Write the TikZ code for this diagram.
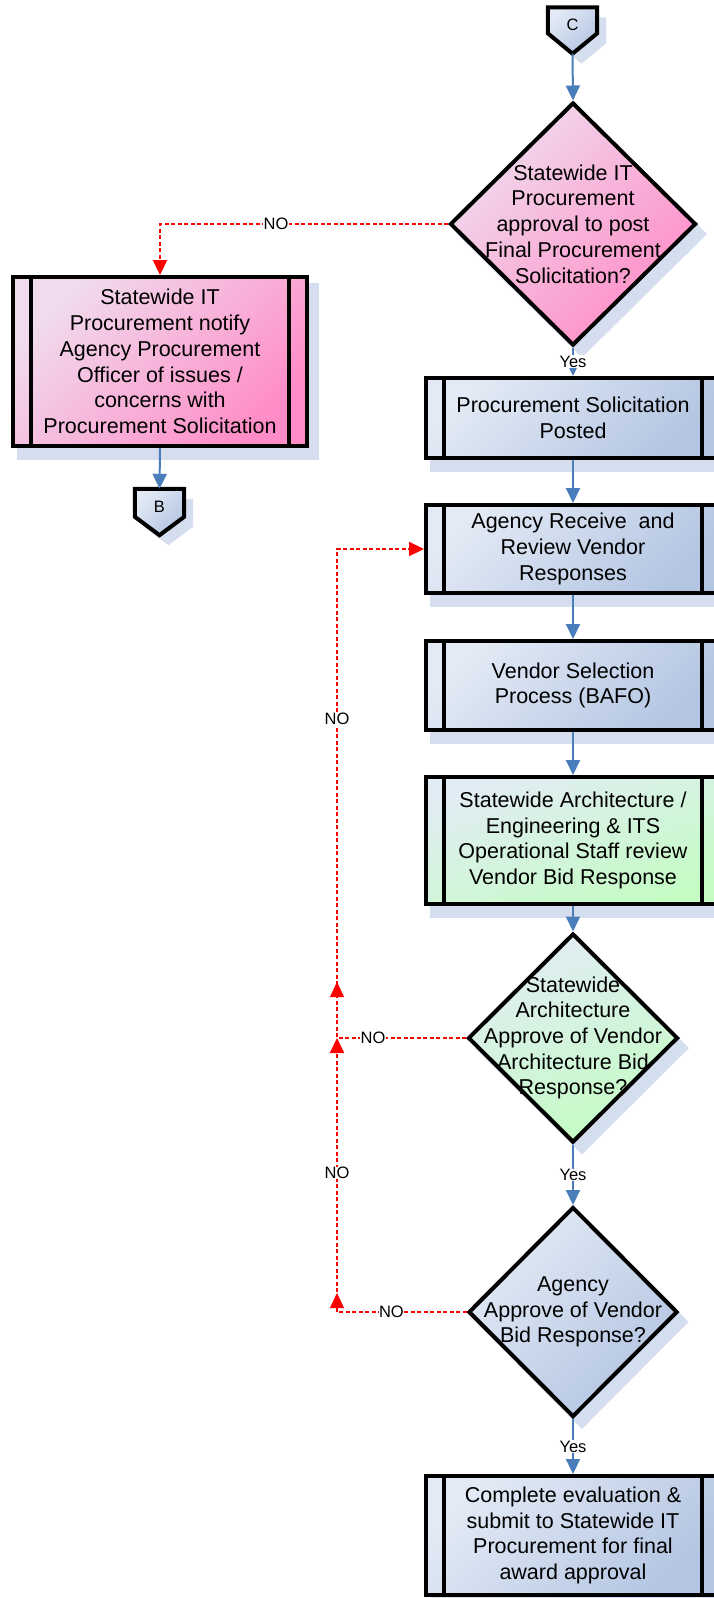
\documentclass[tikz,border=0pt]{standalone}
\usepackage{fontspec}
\setmainfont{Liberation Sans}
\usetikzlibrary{shapes.geometric,arrows.meta,calc,backgrounds}

\definecolor{bLight}{HTML}{E3EAF5}
\definecolor{bDark}{HTML}{B3C5E2}
\definecolor{pLight}{HTML}{F0DCEE}
\definecolor{pDark}{HTML}{FF8CC6}
\definecolor{gLight}{HTML}{E2ECF4}
\definecolor{gDark}{HTML}{C4FCC4}
\definecolor{shadowc}{HTML}{D5DEEE}
\definecolor{flowblue}{HTML}{4A7EBB}
\definecolor{nored}{HTML}{FF0000}

\newcommand\mainsz{\fontsize{21.5}{25.7}\selectfont}
\newcommand\labsz{\fontsize{16.5}{19}\selectfont}

\tikzset{
  blueshade/.style={top color=bLight, bottom color=bDark, shading angle=45},
  pinkshade/.style={top color=pLight, bottom color=pDark, shading angle=45},
  greenshade/.style={top color=gLight, bottom color=gDark, shading angle=20},
  procbox/.style={rectangle, draw=black, line width=4pt, minimum width=294pt,
    inner sep=0pt, align=center, font=\mainsz, text=black},
  decbox/.style={diamond, draw=black, line width=4pt, inner sep=0pt},
  dtext/.style={align=center, font=\mainsz, text=black, inner sep=0pt},
  offbox/.style={rectangle, minimum width=49pt, minimum height=46pt, inner sep=0pt},
  offshape/.style={draw=black, line width=4pt, blueshade, line join=miter},
  offtxt/.style={font=\labsz, text=black, inner sep=0pt},
  stripline/.style={draw=black, line width=4pt},
  flow/.style={draw=flowblue, line width=2pt, -{Triangle[length=15pt,width=14pt]}},
  redline/.style={draw=nored, line width=2.2pt, dash pattern=on 4pt off 2.5pt},
  redend/.style={redline, -{Triangle[length=15pt,width=14pt]}},
  redtip/.style={draw=nored, fill=nored, line width=0.5pt, -{Triangle[length=15pt,width=14pt]}},
  lab/.style={fill=white, inner sep=0.5pt, font=\labsz, text=black},
}

\newcommand\mystrips[1]{%
  \draw[stripline] ([xshift=20pt]#1.north west) -- ([xshift=20pt]#1.south west);
  \draw[stripline] ([xshift=-20pt]#1.north east) -- ([xshift=-20pt]#1.south east);}
\newcommand\boxshadow[1]{%
  \fill[shadowc] ($(#1.north west)+(6,8)$) rectangle ($(#1.south east)+(10,12)$);}
\newcommand\diashadow[1]{%
  \fill[shadowc] ($(#1.north)+(9,10)$) -- ($(#1.east)+(9,10)$) -- ($(#1.south)+(9,10)$) -- ($(#1.west)+(9,10)$) -- cycle;}

\begin{document}
\begin{tikzpicture}[x=1pt,y=-1pt]
\useasboundingbox (0,0) rectangle (714,1598);
\clip (0,0) rectangle (714,1598);

% off-page connector C
\node[offbox] (C) at (572.5,30.5) {};
% decision 1
\node[decbox, pinkshade, minimum width=246pt, minimum height=243pt] (d1) at (573,224) {};
\node[dtext] (d1t) at (d1) {Statewide IT\\Procurement\\approval to post\\Final Procurement\\Solicitation?};

% left branch
\node[procbox, pinkshade, minimum height=169pt] (bL) at (160,361.5)
  {Statewide IT\\Procurement notify\\Agency Procurement\\Officer of issues /\\concerns with\\Procurement Solicitation};
\mystrips{bL}
\node[offbox] (B) at (159.5,512) {};

% main column
\node[procbox, blueshade, minimum height=80pt] (b1) at (573,418) {Procurement Solicitation\\Posted};
\mystrips{b1}
\node[procbox, blueshade, minimum height=88pt] (b2) at (573,549) {Agency Receive~ and\\Review Vendor\\Responses};
\mystrips{b2}
\node[procbox, blueshade, minimum height=89pt] (b3) at (573,685.5) {Vendor Selection\\Process (BAFO)};
\mystrips{b3}
\node[procbox, greenshade, minimum height=127pt] (b4) at (573,840.5) {Statewide Architecture /\\Engineering \& ITS\\Operational Staff review\\Vendor Bid Response};
\mystrips{b4}
\node[decbox, greenshade, minimum width=210pt, minimum height=209pt] (d2) at (573,1038) {};
\node[dtext] (d2t) at (d2) {Statewide\\Architecture\\Approve of Vendor\\Architecture Bid\\Response?};
\node[decbox, blueshade, minimum width=209pt, minimum height=210pt] (d3) at (573,1312) {};
\node[dtext] (d3t) at (d3) {Agency\\Approve of Vendor\\Bid Response?};
\node[procbox, blueshade, minimum height=119pt] (b5) at (573,1535.5) {Complete evaluation \&\\submit to Statewide IT\\Procurement for final\\award approval};
\mystrips{b5}

% off-page shapes
\path[offshape] (C.north west) -- (C.north east) -- ($(C.north east)+(0,26)$) -- (C.south) -- ($(C.north west)+(0,26)$) -- cycle;
\node[offtxt] (Ct) at ($(C.north)+(0,18)$) {C};
\path[offshape] (B.north west) -- (B.north east) -- ($(B.north east)+(0,28)$) -- (B.south) -- ($(B.north west)+(0,28)$) -- cycle;
\node[offtxt] (Bt) at ($(B.north)+(0,18)$) {B};

% shadows
\begin{scope}[on background layer]
  \fill[white] (0,0) rectangle (714,1598);
  \boxshadow{bL}\boxshadow{b1}\boxshadow{b2}\boxshadow{b3}\boxshadow{b4}\boxshadow{b5}
  \diashadow{d1}\diashadow{d2}\diashadow{d3}
  \fill[shadowc] ($(C.north west)+(9,10)$) -- ($(C.north east)+(9,10)$) -- ($(C.north east)+(9,36)$) -- ($(C.south)+(9,10)$) -- ($(C.north west)+(9,36)$) -- cycle;
  \fill[shadowc] ($(B.north west)+(9,10)$) -- ($(B.north east)+(9,10)$) -- ($(B.north east)+(9,38)$) -- ($(B.south)+(9,10)$) -- ($(B.north west)+(9,38)$) -- cycle;
\end{scope}

% blue connectors
\draw[flow] (C.south) -- (d1.north);
\draw[flow] (d1.south) -- node[lab] (y1) {Yes} (b1.north);
\draw[flow] (bL.south) -- (B.north);
\draw[flow] (b1.south) -- (b2.north);
\draw[flow] (b2.south) -- (b3.north);
\draw[flow] (b3.south) -- (b4.north);
\draw[flow] (b4.south) -- (d2.north);
\draw[flow] (d2.south) -- node[lab] (y2) {Yes} (d3.north);
\draw[flow] (d3.south) -- node[lab] (y3) {Yes} (b5.north);

% red NO connectors
\coordinate (r1) at (bL.north |- d1.west);
\coordinate (r2) at (337,1038);
\coordinate (r3) at (r2 |- b2.west);
\coordinate (r4) at (r2 |- d3.west);
\draw[redend] (d1.west) -- node[lab, pos=0.597] (n1) {NO} (r1) -- (bL.north);
\draw[redend] (d2.west) -- node[lab, pos=0.72] (n2) {NO} (r2) -- node[lab, pos=0.652] (n3) {NO} (r3) -- (b2.west);
\draw[redend] (d3.west) -- node[lab, pos=0.58] (n4) {NO} (r4) -- node[lab, pos=0.507] (n5) {NO} (r2);
\coordinate (ra1) at (337,997);
\coordinate (ra2) at (337,982);
\coordinate (ra3) at (337,1308);
\coordinate (ra4) at (337,1293);
\draw[redtip] (ra1) -- (ra2);
\draw[redtip] (ra3) -- (ra4);
\end{tikzpicture}
\end{document}
